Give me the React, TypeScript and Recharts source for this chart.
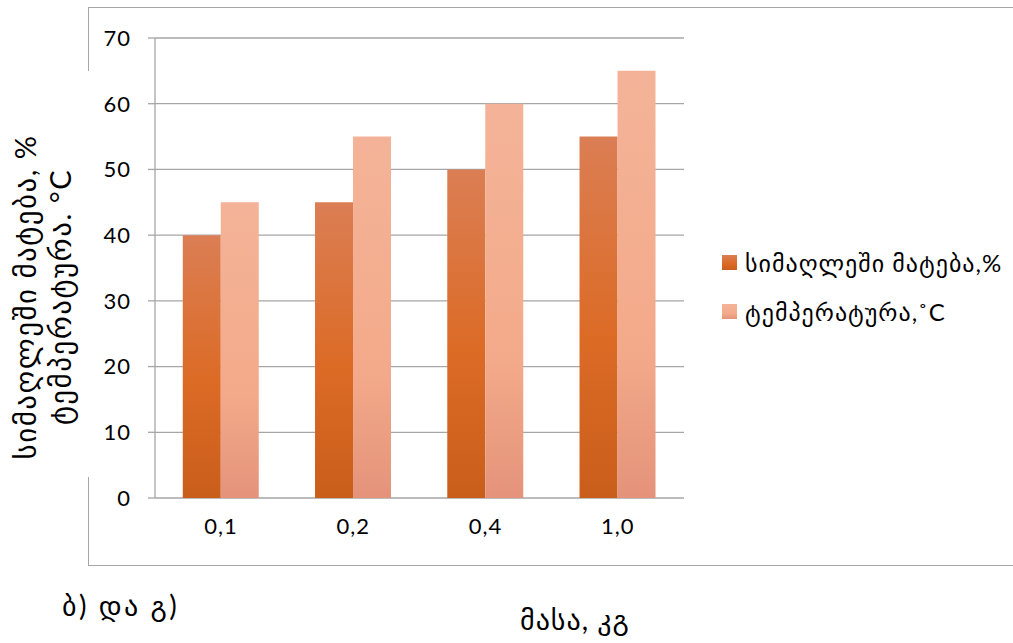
import { BarChart, Bar, XAxis, YAxis, CartesianGrid, Legend } from "recharts";

const masses = ["0,1", "0,2", "0,4", "1,0"];
const heightGain = [40, 45, 50, 55];
const temperature = [45, 55, 60, 65];
const yTicks = [0, 10, 20, 30, 40, 50, 60, 70];
const boundaryTicks = [0, 1, 2, 3, 4];

const seriesNames = ["სიმაღლეში მატება,%", "ტემპერატურა,˚C"];

const data = masses.map((m, i) => ({
  name: m,
  idx: i + 0.5,
  gain: heightGain[i],
  temp: temperature[i],
}));

const FONT = "Lato, 'DejaVu Sans', sans-serif";
const GRID = "#A6A6A6";

const legendSwatches = [
  "linear-gradient(to bottom, #DB7E54, #DC6B26 55%, #C95E1A)",
  "linear-gradient(to bottom, #F4B398, #F3AA8A 65%, #E4937A)",
];

const renderLegend = () => (
  <div style={{ fontFamily: FONT, fontSize: 24, letterSpacing: 1, color: "#000", textAlign: "left" }}>
    {seriesNames.map((n, i) => (
      <div key={n} style={{ display: "flex", alignItems: "center", height: 49 }}>
        <span style={{ width: 15, height: 15, background: legendSwatches[i], marginRight: 8, flex: "none" }} />
        <span style={{ whiteSpace: "nowrap" }}>{n}</span>
      </div>
    ))}
  </div>
);

const tickStyle = { fontSize: 22, fill: "#000", fontFamily: FONT, letterSpacing: 1 };

export default function App() {
  return (
    <div style={{ position: "fixed", left: 0, top: 0, width: 1013, height: 643, background: "#fff", overflow: "hidden", fontFamily: FONT }}>
      <div style={{ position: "absolute", left: 88, top: 7, width: 1000, height: 557, borderTop: `1.5px solid ${GRID}`, borderLeft: `1.5px solid ${GRID}`, borderBottom: `1.5px solid ${GRID}` }} />
      <div style={{ position: "absolute", left: 80, top: 71, width: 16, height: 406, background: "#fff" }} />
      <div style={{ position: "absolute", left: 0, top: 0 }}>
        <BarChart width={1013} height={643} data={data} margin={{ top: 38, right: 329, bottom: 105, left: 95 }} barCategoryGap="21%" barGap={0}>
          <defs>
            <linearGradient id="gainGrad" x1="0" y1="0" x2="0" y2="1">
              <stop offset="0%" stopColor="#DB7E54" />
              <stop offset="55%" stopColor="#DC6B26" />
              <stop offset="100%" stopColor="#C95E1A" />
            </linearGradient>
            <linearGradient id="tempGrad" x1="0" y1="0" x2="0" y2="1">
              <stop offset="0%" stopColor="#F4B398" />
              <stop offset="65%" stopColor="#F3AA8A" />
              <stop offset="100%" stopColor="#E4937A" />
            </linearGradient>
          </defs>
          <CartesianGrid vertical={false} stroke={GRID} strokeWidth={1.3} />
          <XAxis xAxisId="bounds" type="number" dataKey="idx" domain={[0, 4]} ticks={boundaryTicks} height={0} tick={false} tickSize={7} tickLine={{ stroke: GRID, strokeWidth: 1.3 }} axisLine={{ stroke: GRID, strokeWidth: 1.3 }} />
          <XAxis dataKey="name" height={40} tickLine={false} axisLine={false} tickMargin={14} tick={tickStyle} />
          <YAxis domain={[0, 70]} ticks={yTicks} width={60} tickSize={7} tickMargin={17} axisLine={{ stroke: GRID, strokeWidth: 1.3 }} tickLine={{ stroke: GRID, strokeWidth: 1.3 }} tick={tickStyle} />
          <Legend layout="vertical" verticalAlign="middle" align="center" content={renderLegend} wrapperStyle={{ left: 722, top: 238, width: 290 }} />
          <Bar dataKey="gain" name={seriesNames[0]} fill="url(#gainGrad)" isAnimationActive={false} />
          <Bar dataKey="temp" name={seriesNames[1]} fill="url(#tempGrad)" isAnimationActive={false} />
        </BarChart>
      </div>
      <div style={{ position: "absolute", left: 42, top: 297, transform: "translate(-50%, -50%) rotate(-90deg)", whiteSpace: "nowrap", textAlign: "center", fontSize: 29, letterSpacing: 1.5, lineHeight: "35px", color: "#000" }}>
        <div>სიმაღლეში მატება, %</div>
        <div>ტემპერატურა. °C</div>
      </div>
      <div style={{ position: "absolute", left: 62, top: 588, fontSize: 28, letterSpacing: 2.5, color: "#000", whiteSpace: "nowrap" }}>ბ) და გ)</div>
      <div style={{ position: "absolute", left: 520, top: 602, fontSize: 28, letterSpacing: 1, color: "#000", whiteSpace: "nowrap" }}>მასა, კგ</div>
    </div>
  );
}
